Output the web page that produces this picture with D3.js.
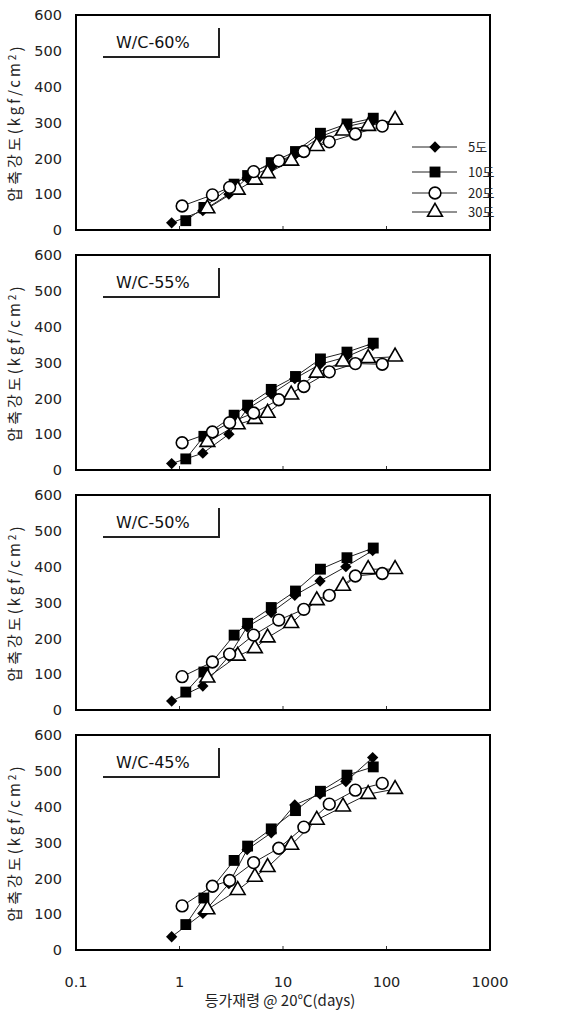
<!DOCTYPE html>
<html>
<head>
<meta charset="utf-8">
<script src="https://cdn.jsdelivr.net/npm/d3@7"></script>
<style>
  body { margin: 0; background: #fff; }
  svg { display: block; }
  .tick-label { font-family: "DejaVu Sans", sans-serif; font-size: 14.5px; fill: #222; }
</style>
</head>
<body>
<div id="chart"></div>
<script>
	var width = 563;
	var height = 1011;

	// data
	var panelNames = ["W/C-60%", "W/C-55%", "W/C-50%", "W/C-45%"];
	var seriesNames = ["5도", "10도", "20도", "30도"];
	var xTicks = [0.1, 1, 10, 100, 1000];
	var yTicks = [0, 100, 200, 300, 400, 500, 600];

	// equivalent age (days) of each series
	var age5 = [0.84, 1.68, 3.0, 4.5, 7.7, 13.0, 22.8, 40.5, 73.5];
	var age10 = [1.15, 1.72, 3.37, 4.55, 7.7, 13.2, 23.0, 41.5, 74.5];
	var age20 = [1.06, 2.08, 3.05, 5.2, 9.1, 15.9, 28.0, 50.0, 91.0];
	var age30 = [1.86, 3.65, 5.35, 7.1, 12.0, 21.2, 38.0, 66.5, 121];

	// strength (kgf/cm2), one row per series: 5, 10, 20, 30도
	var wc60 = [
		[20, 54, 100, 145, 175, 210, 260, 288, 305],
		[26, 63, 128, 152, 188, 219, 270, 296, 312],
		[67, 98, 119, 163, 193, 219, 246, 268, 290],
		[60, 112, 140, 158, 193, 234, 277, 290, 307]
	];
	var wc55 = [
		[18, 47, 100, 170, 212, 255, 295, 315, 348],
		[31, 94, 153, 181, 225, 261, 310, 329, 354],
		[76, 106, 132, 159, 196, 233, 274, 297, 295],
		[78, 127, 142, 159, 210, 271, 302, 312, 316]
	];
	var wc50 = [
		[25, 67, 150, 232, 272, 320, 360, 400, 445],
		[50, 106, 209, 242, 286, 332, 393, 425, 452],
		[93, 134, 156, 209, 251, 281, 320, 374, 381],
		[90, 151, 172, 202, 242, 306, 346, 393, 393]
	];
	var wc45 = [
		[37, 102, 185, 280, 327, 405, 435, 470, 537],
		[71, 145, 250, 290, 338, 389, 443, 488, 511],
		[123, 178, 194, 244, 284, 343, 407, 446, 465],
		[113, 167, 204, 231, 293, 363, 400, 435, 449]
	];

	var ages = [age5, age10, age20, age30];
	var strengths = [wc60, wc55, wc50, wc45];

	var left = 76, right = 490;
	var panelH = 215;

	var svg = d3.select("#chart")
	.append("svg")
	.attr("width", width)
	.attr("height", height);

	var xScale = d3.scaleLog()
	.domain([0.1, 1000])
	.range([left, right]);

	// diamond = square turned 45deg
	var symbols = [d3.symbolSquare, d3.symbolSquare, d3.symbolCircle, d3.symbolTriangle];
	var symSize = [64, 118, 108, 95];
	var symRotate = [45, 0, 0, 0];
	var symFill = ["#000", "#000", "#fff", "#fff"];
	var symStroke = [0, 0, 1.6, 1.6];

	function marker(g, i) {
		g.append("path")
		.attr("d", d3.symbol().type(symbols[i]).size(symSize[i]))
		.attr("transform", "rotate(" + symRotate[i] + ")")
		.attr("fill", symFill[i])
		.attr("stroke", "#000")
		.attr("stroke-width", symStroke[i]);
	}

	// draw order: diamonds, squares, triangles, circles
	var drawOrder = [0, 1, 3, 2];

	panelNames.forEach(function(name, p) {
		var top = 15 + p * 240;
		var yScale = d3.scaleLinear()
		.domain([0, 600])
		.range([top + panelH, top]);

		var g = svg.append("g").attr("class", "panel");

		// y tick labels
		g.selectAll(".ylab")
		.data(yTicks)
		.enter()
		.append("text")
		.attr("class", "tick-label")
		.attr("x", 62)
		.attr("y", function(d) { return yScale(d); })
		.attr("dy", "0.36em")
		.attr("text-anchor", "end")
		.text(function(d) { return d; });

		// small inner ticks
		g.selectAll(".xt")
		.data(xTicks.slice(1, 4))
		.enter()
		.append("line")
		.attr("x1", function(d) { return xScale(d); })
		.attr("x2", function(d) { return xScale(d); })
		.attr("y1", top + panelH)
		.attr("y2", top + panelH - 4)
		.attr("stroke", "#333")
		.attr("stroke-width", 1);

		// y axis title
		var yt = g.append("text")
		.attr("transform", "translate(20," + (top + panelH / 2) + ") rotate(-90)")
		.attr("text-anchor", "middle")
		.style("font-family", "'Noto Sans CJK KR', sans-serif")
		.style("font-size", "15px")
		.style("letter-spacing", "3px")
		.attr("fill", "#222");
		yt.append("tspan").text("압축강도(kgf/cm");
		yt.append("tspan").attr("dy", "-0.45em").style("font-size", "10px").text("2");
		yt.append("tspan").attr("dy", "0.45em").text(")");

		// series lines
		var line = d3.line()
		.x(function(d) { return xScale(d[0]); })
		.y(function(d) { return yScale(d[1]); });

		drawOrder.forEach(function(s) {
			var pts = ages[s].map(function(a, k) { return [a, strengths[p][s][k]]; });
			g.append("path")
			.datum(pts)
			.attr("d", line)
			.attr("fill", "none")
			.attr("stroke", "#222")
			.attr("stroke-width", 1);
		});

		drawOrder.forEach(function(s) {
			var pts = ages[s].map(function(a, k) { return [a, strengths[p][s][k]]; });
			g.selectAll(".m" + s)
			.data(pts)
			.enter()
			.append("g")
			.attr("transform", function(d) {
				return "translate(" + xScale(d[0]) + "," + yScale(d[1]) + ")";
			})
			.each(function() { marker(d3.select(this), s); });
		});

		// frame
		g.append("rect")
		.attr("x", left)
		.attr("y", top)
		.attr("width", right - left)
		.attr("height", panelH)
		.attr("fill", "none")
		.attr("stroke", "#000")
		.attr("stroke-width", 2);

		// W/C label with half box
		g.append("text")
		.attr("x", 116)
		.attr("y", top + 33)
		.style("font-family", "'DejaVu Sans', sans-serif")
		.style("font-size", "16px")
		.attr("fill", "#111")
		.text(name);

		g.append("path")
		.attr("d", "M103," + (top + 42) + "H219V" + (top + 13))
		.attr("fill", "none")
		.attr("stroke", "#222")
		.attr("stroke-width", 2);
	});

	// legend in the first panel
	var legend = svg.append("g")
	.attr("class", "legend")
	.selectAll("g")
	.data(seriesNames)
	.enter()
	.append("g")
	.attr("transform", function(d, i) {
		return "translate(435," + [147, 172, 193, 212][i] + ")";
	});

	legend.append("line")
	.attr("x1", -23)
	.attr("x2", 22)
	.attr("stroke", "#222")
	.attr("stroke-width", 1);

	legend.each(function(d, i) { marker(d3.select(this), i); });

	legend.append("text")
	.attr("x", 33)
	.attr("dy", "0.36em")
	.style("font-family", "'Noto Sans CJK KR', sans-serif")
	.style("font-size", "13px")
	.attr("fill", "#222")
	.text(function(d) { return d; });

	// x tick labels under the last panel
	svg.selectAll(".xlab")
	.data(xTicks)
	.enter()
	.append("text")
	.attr("class", "tick-label")
	.attr("x", function(d) { return xScale(d); })
	.attr("y", 987)
	.attr("text-anchor", "middle")
	.text(function(d) { return d; });

	svg.append("text")
	.attr("x", 280)
	.attr("y", 1006)
	.attr("text-anchor", "middle")
	.style("font-family", "'Noto Sans CJK KR', sans-serif")
	.style("font-size", "15px")
	.attr("fill", "#222")
	.text("등가재령 @ 20℃(days)");
</script>
</body>
</html>
